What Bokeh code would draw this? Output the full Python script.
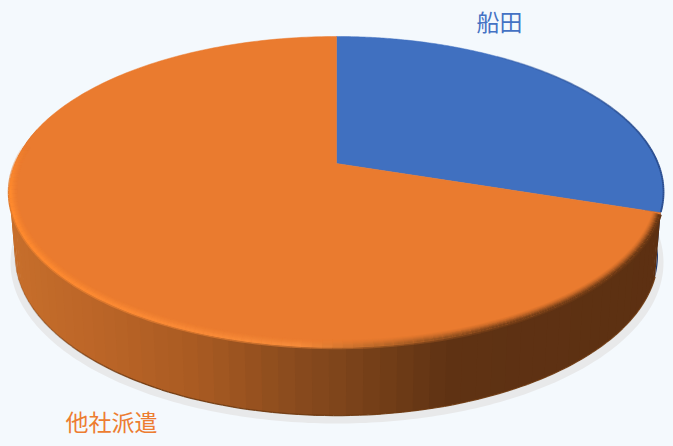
import numpy as np
from bokeh.plotting import figure
from bokeh.embed import file_html
from bokeh.resources import INLINE
from bokeh.core.properties import value
from bokeh.models import GlobalInlineStyleSheet

categories = ["船田", "他社派遣"]
shares = [30, 70]
top_colors = ["#4070c0", "#ea7b2f"]
label_colors = ["#4472c4", "#ed7d31"]
label_x = [499, 111]
label_y = [20, 420]

BG = "#f4f9fd"
# wall shading by screen x
wall_x = [0, 15, 100, 200, 300, 350, 400, 450, 700]
wall_r = [0xc8, 0xc6, 0xbb, 0xa8, 0x88, 0x7c, 0x6e, 0x5f, 0x5c]
wall_g = [0x70, 0x6e, 0x65, 0x5a, 0x4a, 0x43, 0x3b, 0x32, 0x30]
wall_b = [0x2c, 0x2b, 0x27, 0x22, 0x1d, 0x1a, 0x16, 0x13, 0x12]
# bevel colour by screen x
rim_x = [0, 150, 300, 350, 420, 500, 700]
rim_r = [0xff, 0xfb, 0xf6, 0xd0, 0xa0, 0x78, 0x66]
rim_g = [0x8a, 0x8a, 0x8b, 0x74, 0x58, 0x40, 0x36]
rim_b = [0x2e, 0x35, 0x3a, 0x2e, 0x22, 0x18, 0x14]

CX, CY = 336.0, 163.0
A, B, K = 321.5, 150.3, 0.1833


def proj(theta, sx=1.0, sy=1.0, cy=CY):
    d = 1 + K * np.cos(theta)
    return CX + sx * A * np.sin(theta) / d, cy - sy * B * np.cos(theta) / d


def hexc(r, g, b):
    return "#%02x%02x%02x" % (int(round(r)), int(round(g)), int(round(b)))


def wall_color(x):
    return np.array([np.interp(x, wall_x, c) for c in (wall_r, wall_g, wall_b)])


def rim_color(x):
    return np.array([np.interp(x, rim_x, c) for c in (rim_r, rim_g, rim_b)])


BASE_SX, BASE_SY, BASE_CY = 0.983, 1.029, 225.7

p = figure(width=673, height=446, x_range=(0, 673), y_range=(446, 0),
           output_backend="svg", toolbar_location=None,
           background_fill_color=BG, border_fill_color=BG, min_border=0,
           outline_line_color=None)
p.axis.visible = False
p.grid.visible = False
p.stylesheets = [GlobalInlineStyleSheet(css="html,body{background:%s;overflow:hidden}" % BG)]

cum = np.cumsum([0] + shares) / sum(shares) * 2 * np.pi
split = cum[1]

# cast shadow
t = np.linspace(0, 2 * np.pi, 361)
p.patch(336.5 + 326.5 * np.sin(t), 262 - 161 * np.cos(t), fill_color="#e8e9ea", line_color=None)

# back (blue) wall
t = np.linspace(split - np.radians(40), split, 40)
x0, y0 = proj(t)
x1, y1 = proj(t, BASE_SX, BASE_SY, BASE_CY)
p.patch(np.r_[x0, x1[::-1]], np.r_[y0, y1[::-1]], fill_color="#22386a", line_color=None)

# front (orange) wall in overlapping bands
edges = np.radians(np.arange(np.degrees(split), 285, 2.5))
xs, ys, cols = [], [], []
for a, b in zip(edges[:-1], edges[1:]):
    t2 = np.linspace(a, b + np.radians(0.6), 6)
    xa, ya = proj(t2)
    xb, yb = proj(t2, BASE_SX, BASE_SY, BASE_CY)
    xs.append(list(np.r_[xa, xb[::-1]]))
    ys.append(list(np.r_[ya, yb[::-1]]))
    cols.append(hexc(*wall_color(xa.mean())))
p.patches(xs[::-1], ys[::-1], fill_color=cols[::-1], line_color=None)

# darker foot of the wall, fading towards the left end
t = np.linspace(split, np.radians(262), 120)
xs = [list(proj(np.array([a, b]), BASE_SX, BASE_SY, BASE_CY)[0]) for a, b in zip(t[:-1], t[1:])]
ys = [list(proj(np.array([a, b]), BASE_SX, BASE_SY, BASE_CY)[1]) for a, b in zip(t[:-1], t[1:])]
al = list(np.interp(np.degrees(t[:-1]), [210, 255], [0.9, 0.1]))
p.multi_line(xs, ys, line_color="#6d3810", line_width=1.3, line_alpha=al)

# top face
for i in range(len(shares)):
    t = np.linspace(cum[i], cum[i + 1], 240)
    x, y = proj(t)
    p.patch(np.r_[CX, x], np.r_[CY, y], fill_color=top_colors[i], line_color=top_colors[i], line_width=0.5)

# bevel on the front rim
orange = np.array([0xea, 0x7b, 0x2f], float)
edges = np.radians(np.arange(np.degrees(split) + 0.6, 278, 1.5))
layers = [(7, .08), (6, .18), (5, .32), (4, .48), (3, .66), (2, .84), (1, 1.0), (0, 1.0), (-1, .75)]
for d, w in layers:
    rx, ry = 1 - d / 327, 1 - d / 184
    xs, ys, cols = [], [], []
    for a, b in zip(edges[:-1], edges[1:]):
        x, y = proj(np.array([a, b]))
        x = CX + (x - CX) * rx
        y = CY + (y - CY) * ry
        c = rim_color(x.mean())
        if d < 0:
            m = c * .5 + wall_color(x.mean()) * .5
        else:
            m = orange + (c - orange) * w
        xs.append(list(x))
        ys.append(list(y))
        cols.append(hexc(*m))
    fade = list(np.interp(np.degrees(edges[:-1]), [258, 277], [1.0, 0.0]))
    p.multi_line(xs, ys, line_color=cols, line_width=1.4, line_alpha=fade)

# dark rim of the blue face
t = np.linspace(np.radians(35), split - 0.005, 100)
xs = [list(proj(np.array([a, b]))[0]) for a, b in zip(t[:-1], t[1:])]
ys = [list(proj(np.array([a, b]))[1]) for a, b in zip(t[:-1], t[1:])]
al = list(np.interp(t[:-1], [np.radians(35), np.radians(85)], [0.15, 1.0]))
p.multi_line(xs, ys, line_color="#2a4d8f", line_width=1.8, line_alpha=al)

# labels
p.text(label_x, label_y, text=categories, text_color=label_colors,
       text_font=value("Noto Sans CJK JP"), text_font_size="23px",
       text_align="center", text_baseline="middle")

open("out.html", "w").write(file_html(p, INLINE))
